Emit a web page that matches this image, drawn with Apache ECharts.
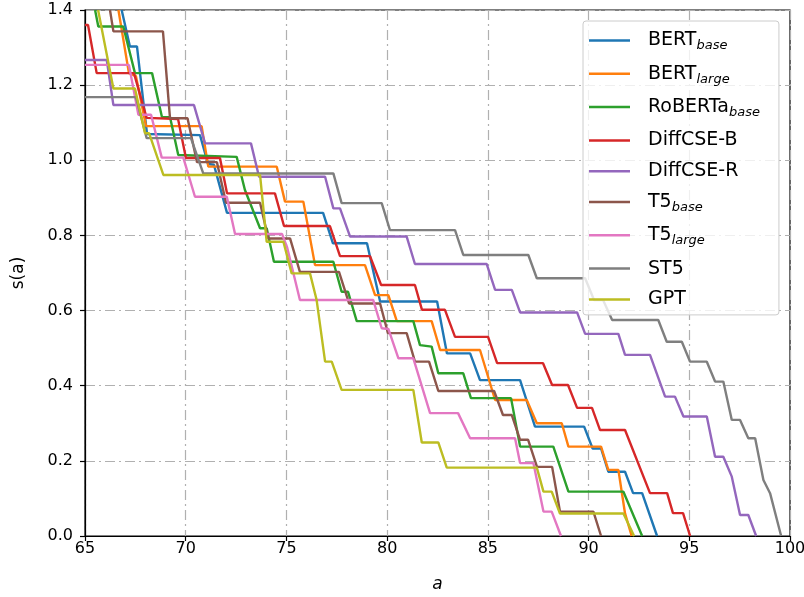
<!DOCTYPE html>
<html><head><meta charset="utf-8">
<script src="https://cdn.jsdelivr.net/npm/echarts@6/dist/echarts.min.js"></script>
<style>html,body{margin:0;padding:0;background:#fff}#c{width:804px;height:597px}</style>
</head><body><div id="c"></div>
<script>
const xTicks = [65, 70, 75, 80, 85, 90, 95, 100];
const yTicks = [0, 0.2, 0.4, 0.6, 0.8, 1.0, 1.2, 1.4];
const seriesMain = ['BERT', 'BERT', 'RoBERTa', 'DiffCSE-B', 'DiffCSE-R', 'T5', 'T5', 'ST5', 'GPT'];
const seriesSub = ['base', 'large', 'base', '', '', 'base', 'large', '', ''];
const colors = ['#1f77b4', '#ff7f0e', '#2ca02c', '#d62728', '#9467bd', '#8c564b', '#e377c2', '#7f7f7f', '#bcbd22'];

const bertBase = [[66.82,1.40],[67.23,1.303],[67.58,1.303],[68.08,1.070],[70.71,1.067],[71.11,0.990],[71.40,0.988],[72.05,0.860],[76.82,0.860],[77.31,0.779],[79.00,0.779],[79.65,0.624],[82.48,0.624],[82.97,0.486],[84.12,0.486],[84.61,0.415],[86.60,0.415],[87.34,0.291],[89.78,0.291],[90.20,0.233],[90.62,0.233],[90.98,0.171],[91.81,0.171],[92.21,0.114],[92.66,0.114],[93.40,0]];
const bertLarge = [[66.66,1.40],[67.18,1.232],[67.53,1.224],[68.03,1.091],[70.79,1.091],[71.12,0.983],[74.52,0.983],[74.93,0.890],[75.84,0.890],[76.42,0.721],[78.90,0.721],[79.40,0.641],[80.06,0.641],[80.48,0.572],[82.21,0.572],[82.63,0.495],[84.61,0.495],[85.36,0.362],[86.93,0.362],[87.43,0.300],[88.67,0.300],[89.00,0.238],[90.62,0.238],[90.98,0.176],[91.48,0.176],[91.81,0.060],[92.14,0]];
const robertaBase = [[65.50,1.40],[65.66,1.356],[66.90,1.356],[67.48,1.232],[68.33,1.232],[68.82,1.115],[69.22,1.115],[69.63,1.014],[72.53,1.009],[72.94,0.921],[73.69,0.819],[74.02,0.819],[74.38,0.730],[77.33,0.730],[77.74,0.650],[78.06,0.650],[78.49,0.572],[81.30,0.572],[81.63,0.508],[82.21,0.504],[82.54,0.433],[83.78,0.433],[84.16,0.367],[86.15,0.367],[86.60,0.238],[88.25,0.238],[89.00,0.118],[91.73,0.118],[92.66,0]];
const diffcseB = [[65.00,1.36],[65.15,1.36],[65.58,1.232],[67.43,1.232],[68.06,1.113],[69.62,1.110],[70.01,1.006],[71.70,1.006],[72.05,0.912],[74.43,0.912],[74.88,0.825],[77.16,0.825],[77.66,0.745],[79.15,0.745],[79.70,0.668],[81.38,0.668],[81.73,0.602],[82.87,0.602],[83.37,0.530],[85.01,0.530],[85.46,0.460],[87.74,0.460],[88.19,0.402],[88.98,0.402],[89.43,0.341],[90.17,0.341],[90.57,0.282],[91.81,0.282],[93.05,0.114],[93.90,0.114],[94.19,0.061],[94.69,0.061],[95.04,0]];
const diffcseR = [[65.00,1.267],[66.08,1.267],[66.41,1.147],[70.41,1.147],[70.96,1.045],[73.24,1.045],[73.64,0.956],[76.92,0.956],[77.33,0.872],[77.66,0.872],[78.16,0.797],[80.97,0.797],[81.38,0.724],[84.94,0.724],[85.36,0.655],[86.19,0.655],[86.60,0.595],[89.43,0.595],[89.83,0.538],[91.48,0.538],[91.81,0.482],[93.05,0.482],[93.80,0.371],[94.29,0.371],[94.71,0.318],[95.87,0.318],[96.28,0.211],[96.69,0.211],[97.11,0.158],[97.52,0.056],[97.93,0.056],[98.32,0]];
const t5Base = [[66.24,1.40],[66.41,1.343],[68.87,1.343],[69.22,1.112],[70.09,1.112],[70.56,0.995],[71.55,0.995],[72.00,0.887],[73.69,0.887],[74.10,0.792],[75.18,0.792],[75.67,0.703],[77.61,0.703],[78.11,0.619],[79.65,0.619],[80.04,0.540],[80.97,0.540],[81.38,0.464],[82.08,0.464],[82.54,0.386],[85.31,0.386],[85.75,0.322],[86.19,0.322],[86.60,0.256],[87.00,0.256],[87.44,0.184],[88.19,0.184],[88.58,0.065],[90.24,0.065],[90.62,0]];
const t5Large = [[65.00,1.254],[67.18,1.254],[67.65,1.121],[68.28,1.121],[68.81,1.007],[69.88,1.007],[70.46,0.903],[72.04,0.903],[72.45,0.804],[74.78,0.804],[75.03,0.769],[75.67,0.628],[79.31,0.628],[79.73,0.553],[80.06,0.551],[80.56,0.473],[81.30,0.473],[82.13,0.327],[83.52,0.327],[84.12,0.260],[86.35,0.260],[86.60,0.194],[87.26,0.194],[87.76,0.065],[88.17,0.065],[88.63,0]];
const st5 = [[65.00,1.168],[67.53,1.168],[68.06,1.059],[70.26,1.059],[70.87,0.965],[77.33,0.965],[77.74,0.886],[79.73,0.886],[80.14,0.814],[83.37,0.814],[83.78,0.748],[87.01,0.748],[87.43,0.686],[89.83,0.686],[90.27,0.628],[90.72,0.628],[91.17,0.575],[93.46,0.575],[93.88,0.517],[94.63,0.517],[95.04,0.464],[95.87,0.464],[96.28,0.411],[96.69,0.411],[97.11,0.309],[97.52,0.309],[97.93,0.260],[98.27,0.260],[98.68,0.149],[99.01,0.114],[99.56,0]];
const gpt = [[65.65,1.40],[66.41,1.191],[67.48,1.191],[67.98,1.072],[68.18,1.072],[68.89,0.961],[73.69,0.961],[74.02,0.783],[74.85,0.783],[75.26,0.699],[76.17,0.699],[76.50,0.628],[76.92,0.464],[77.25,0.464],[77.74,0.389],[81.30,0.389],[81.72,0.249],[82.54,0.249],[82.96,0.182],[87.43,0.182],[87.76,0.118],[88.17,0.118],[88.58,0.060],[91.73,0.060],[92.26,0]];

const allData = [bertBase, bertLarge, robertaBase, diffcseB, diffcseR, t5Base, t5Large, st5, gpt];
const names = seriesMain.map((m, i) => m + (seriesSub[i] ? '_' + seriesSub[i] : ''));

const chart = echarts.init(document.getElementById('c'), null, {renderer: 'canvas'});
const FONT = 'DejaVu Sans';
const gridLine = {show: true, lineStyle: {color: '#b0b0b0', width: 1.2, type: [10, 4, 2, 4]}};
chart.setOption({
  animation: false,
  backgroundColor: '#ffffff',
  textStyle: {fontFamily: FONT},
  grid: {left: 85, right: 14, top: 10, bottom: 61, containLabel: false, outerBoundsMode: 'none',
         show: true, borderColor: '#000', borderWidth: 1.2, backgroundColor: 'transparent'},
  xAxis: {
    type: 'value', min: xTicks[0], max: xTicks[xTicks.length - 1], interval: xTicks[1] - xTicks[0],
    name: 'a', nameLocation: 'middle', nameGap: 40,
    nameTextStyle: {fontFamily: FONT, fontSize: 17, fontStyle: 'italic', color: '#000'},
    axisLine: {show: true, onZero: false, lineStyle: {color: '#000', width: 1.2}},
    axisTick: {show: true, length: 5, lineStyle: {color: '#000', width: 1.2}},
    axisLabel: {fontFamily: FONT, fontSize: 16, color: '#000', margin: 5, hideOverlap: false},
    splitLine: gridLine
  },
  yAxis: {
    type: 'value', min: yTicks[0], max: yTicks[yTicks.length - 1], interval: 0.2,
    name: 's(a)', nameLocation: 'middle', nameGap: 58, nameRotate: 90,
    nameTextStyle: {fontFamily: FONT, fontSize: 17, color: '#000'},
    axisLine: {show: true, onZero: false, lineStyle: {color: '#000', width: 1.2}},
    axisTick: {show: true, length: 5, lineStyle: {color: '#000', width: 1.2}},
    axisLabel: {fontFamily: FONT, fontSize: 16, color: '#000', margin: 12, formatter: v => v.toFixed(1)},
    splitLine: gridLine
  },
  legend: {
    orient: 'vertical', left: 583, top: 21,
    padding: [10, 19, 6, 6],
    itemWidth: 41, itemHeight: 2.5, itemGap: 11.8,
    icon: 'rect',
    backgroundColor: 'rgba(255,255,255,0.8)', borderColor: '#cccccc', borderWidth: 1, borderRadius: 3,
    data: names,
    formatter: function (name) {
      const i = names.indexOf(name);
      return '{n|' + seriesMain[i] + '}' + (seriesSub[i] ? '{s|' + seriesSub[i] + '}' : '');
    },
    textStyle: {
      fontFamily: FONT, fontSize: 19, color: '#000',
      rich: {
        n: {fontFamily: FONT, fontSize: 19, color: '#000', lineHeight: 24, padding: [0, 0, 0, 13]},
        s: {fontFamily: FONT, fontSize: 13, fontStyle: 'italic', color: '#000', lineHeight: 14, verticalAlign: 'bottom'}
      }
    }
  },
  series: allData.map((d, i) => ({
    name: names[i], type: 'line', data: d, showSymbol: false, symbol: 'none',
    color: colors[i], lineStyle: {color: colors[i], width: 2.4}, clip: true
  }))
});
</script></body></html>
